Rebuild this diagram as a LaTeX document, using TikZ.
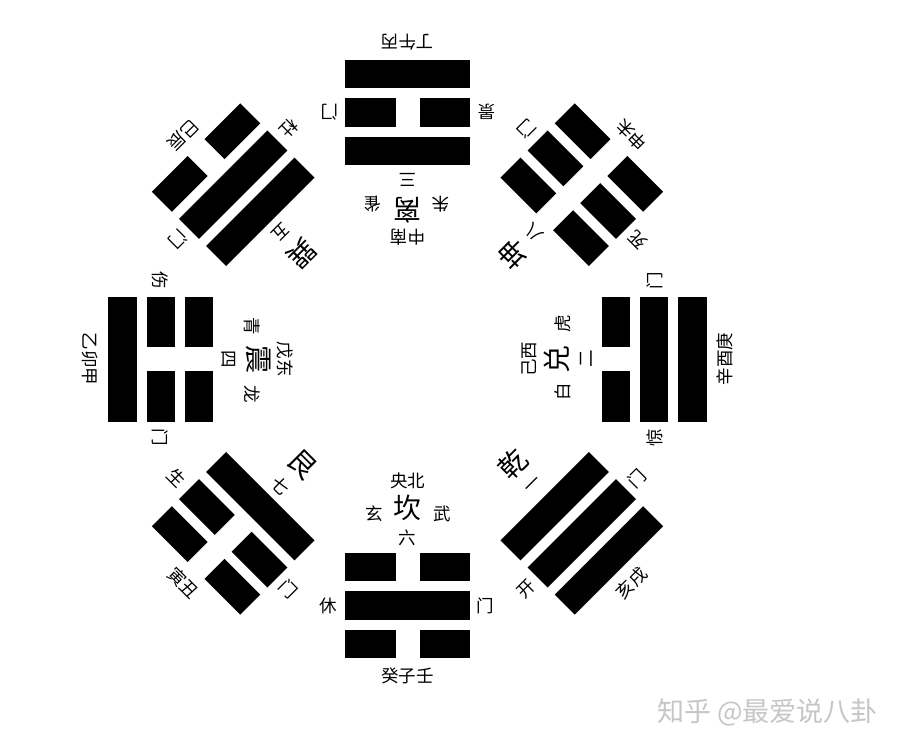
\documentclass[tikz,border=0pt]{standalone}
\usepackage{fontspec}
\newfontfamily\cjk{Noto Sans CJK SC}

\begin{document}
\begin{tikzpicture}[x=1pt, y=1pt,
    yao/.style={fill=black},
    small/.style={font=\cjk\fontsize{17.5}{17.5}\selectfont, inner sep=0pt},
    big/.style={font=\cjk\fontsize{28}{28}\selectfont, inner sep=0pt}]
    % Page
    \fill[white] (-407.5,-388) rectangle (491.5,359);
    \useasboundingbox (-407.5,-388) rectangle (491.5,359);

    % Trigrams (lines from outside in), names, numbers, gates, stems
    \foreach \ang/\id/\la/\lb/\lc/\gname/\num/\gate/\stems in {
        0/kan/0/1/0/坎/六/休/癸子壬,
        -45/gen/0/0/1/艮/七/生/寅丑,
        -90/zhen/1/0/0/震/四/伤/乙卯甲,
        -135/xun/0/1/1/巽/五/杜/巳辰,
        180/li/1/0/1/离/三/景/丁午丙,
        135/kun/0/0/0/坤/八/死/申未,
        90/dui/1/1/0/兑/二/惊/辛酉庚,
        45/qian/1/1/1/乾/一/开/亥戌}
    {
        \begin{scope}[rotate=\ang, transform shape]
            \foreach \i/\s in {0/\la,1/\lb,2/\lc} {
                \pgfmathsetmacro{\ro}{-299+\i*38.35}
                \ifnum\s=1
                    \fill[yao] (-62.5,\ro) rectangle (62.5,\ro+28.3);
                \else
                    \fill[yao] (-62.5,\ro) rectangle (-12,\ro+28.3);
                    \fill[yao] (12,\ro) rectangle (62.5,\ro+28.3);
                \fi
            }
            \node[big] (\id-name) at (0,-149) {\gname};
            \node[small] (\id-num) at (0,-179) {\num};
            \node[small] (\id-gate) at (-79,-247) {\gate};
            \node[small] (\id-men) at (78,-247) {门};
            \node[small] (\id-stems) at (0,-317) {\stems};
        \end{scope}
    }

    % Directions and the four animals
    \foreach \ang/\id/\dir/\al/\ar in {0/kan/央北/玄/武, 180/li/中南/朱/雀,
        -90/zhen/戊东/青/龙, 90/dui/己西/白/虎}
    {
        \begin{scope}[rotate=\ang, transform shape]
            \node[small] (\id-dir) at (0,-122) {\dir};
            \node[small] (\id-left) at (-33,-155) {\al};
            \node[small] (\id-right) at (35,-155) {\ar};
        \end{scope}
    }

    % Watermark
    \node[font=\cjk\fontsize{27}{27}\selectfont, text=gray!45, inner sep=0pt]
        (mark) at (360,-353) {知乎 @最爱说八卦};
\end{tikzpicture}
\end{document}
